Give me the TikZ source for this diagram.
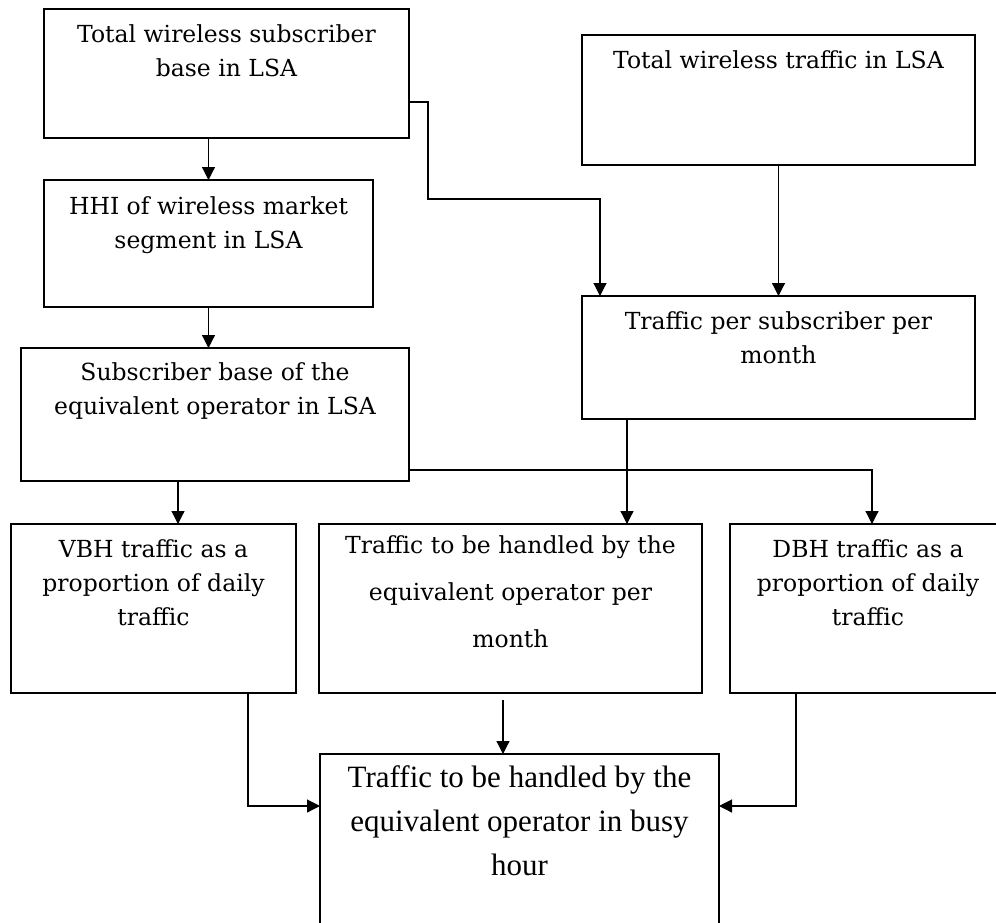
\documentclass[tikz,border=0pt]{standalone}
\usepackage{fontspec}
\setmainfont{DejaVu Serif}
\newfontfamily\busyfont{Liberation Serif}
\usetikzlibrary{arrows.meta}

\tikzset{
  box/.style={rectangle, draw, line width=1.4pt, inner sep=0pt, outer sep=0pt, anchor=north west},
  % base anchor sits on the last line, so each extra line shifts it down once more
  txt/.style={align=center, anchor=base, inner sep=0pt, yshift=-33pt, font=\fontsize{23.5}{34}\selectfont},
  flow/.style={line width=1.2pt, -{Triangle[length=13pt, width=13pt]}}
}

\begin{document}
\begin{tikzpicture}[x=1pt, y=-1pt]
\useasboundingbox (0,0) rectangle (996,922);
\clip (0,0) rectangle (996,922);
\fill[white] (0,0) rectangle (996,922);

\node[box, minimum width=365pt, minimum height=129pt, label={[txt, yshift=-34pt]north:{Total wireless subscriber\\base in LSA}}] (subs) at (44,9) {};
\node[box, minimum width=393pt, minimum height=130pt, label={[txt]north:{Total wireless traffic in LSA}}] (traffic) at (582,35) {};
\node[box, minimum width=329pt, minimum height=127pt, label={[txt, yshift=-35pt]north:{HHI of wireless market\\segment in LSA}}] (hhi) at (44,180) {};
\node[box, minimum width=393pt, minimum height=123pt, label={[txt, yshift=-34pt]north:{Traffic per subscriber per\\month}}] (persub) at (582,296) {};
\node[box, minimum width=388pt, minimum height=133pt, label={[txt, yshift=-33pt]north:{Subscriber base of the\\equivalent operator in LSA}}] (eqsubs) at (21,348) {};
\node[box, minimum width=285pt, minimum height=169pt, label={[txt, yshift=-68pt]north:{VBH traffic as a\\proportion of daily\\traffic}}] (vbh) at (11,524) {};
\node[box, minimum width=383pt, minimum height=169pt, label={[txt, yshift=-90pt, font=\fontsize{23.5}{47}\selectfont]north:{Traffic to be handled by the\\equivalent operator per\\month}}] (permonth) at (319,524) {};
\node[box, minimum width=276pt, minimum height=169pt, label={[txt, yshift=-68pt]north:{DBH traffic as a\\proportion of daily\\traffic}}] (dbh) at (730,524) {};
\node[box, minimum width=399pt, minimum height=200pt, label={[txt, yshift=-88pt, font=\busyfont\fontsize{31}{44}\selectfont]north:{Traffic to be handled by the\\equivalent operator in busy\\hour}}] (busy) at (320,754) {};

\draw[flow] (subs.south -| hhi.north) -- (hhi.north);
\draw[flow] (hhi.south) -- (eqsubs.north -| hhi.south);
\draw[flow] (subs.east |- 0,102) -| (428,199) -| ([xshift=18pt]persub.north west);
\draw[flow] (traffic.south) -- (persub.north -| traffic.south);
\draw[flow] (persub.south -| 627,0) -- (permonth.north -| 627,0);
\draw[flow] (eqsubs.east |- 0,470) -| (dbh.north -| 872,0);
\draw[flow] (eqsubs.south -| 178,0) -- (vbh.north -| 178,0);
\draw[flow, shorten <=7pt] (permonth.south -| 503,0) -- (busy.north -| 503,0);
\draw[flow] (vbh.south -| 248,0) |- (busy.west |- 0,806);
\draw[flow] (dbh.south -| 796,0) |- (busy.east |- 0,806);
\end{tikzpicture}
\end{document}
